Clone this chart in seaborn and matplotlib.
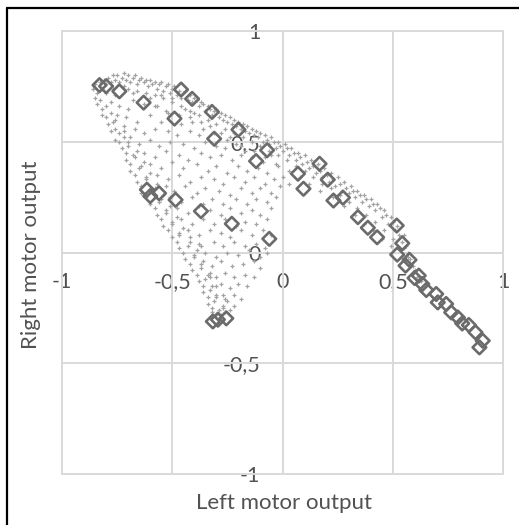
import matplotlib
matplotlib.use("Agg")
import matplotlib.pyplot as plt
from matplotlib.lines import Line2D
from matplotlib.ticker import FixedLocator, FuncFormatter
import pandas as pd
import seaborn as sns

# ---------------------------------------------------------------------------
# Data
# ---------------------------------------------------------------------------
tick_values = [-1, -0.5, 0, 0.5, 1]
x_title = "Left motor output"
y_title = "Right motor output"

# Evaluated controller outputs (large hollow diamonds)
diamond_left = [-0.83, -0.80, -0.74, -0.63, -0.46, -0.41, -0.32, -0.49, -0.31, -0.20,
                -0.07, -0.12, 0.07, 0.095, -0.615, -0.60, -0.56, -0.485, -0.37, -0.23,
                -0.06, -0.316, -0.293, -0.255, 0.168, 0.205, 0.231, 0.274, 0.342, 0.387,
                0.429, 0.518, 0.543, 0.520, 0.576, 0.558, 0.618, 0.599, 0.634, 0.652,
                0.697, 0.704, 0.742, 0.765, 0.795, 0.815, 0.845, 0.875, 0.908, 0.893]
diamond_right = [0.756, 0.751, 0.728, 0.677, 0.736, 0.694, 0.635, 0.605, 0.514, 0.555,
                 0.462, 0.413, 0.356, 0.288, 0.284, 0.255, 0.268, 0.238, 0.187, 0.130,
                 0.062, -0.311, -0.303, -0.297, 0.401, 0.329, 0.235, 0.248, 0.160, 0.112,
                 0.069, 0.122, 0.042, -0.009, -0.033, -0.059, -0.104, -0.115, -0.142, -0.169,
                 -0.187, -0.225, -0.232, -0.270, -0.293, -0.320, -0.327, -0.360, -0.398, -0.428]

# Sampled outputs (small grey dots), grouped by part of the cloud
upper_edge = [(-0.86, 0.74), (-0.85, 0.76), (-0.84, 0.72), (-0.83, 0.77), (-0.82, 0.74), (-0.81, 0.78),
              (-0.80, 0.76), (-0.80, 0.72), (-0.79, 0.79), (-0.78, 0.77), (-0.77, 0.80), (-0.77, 0.74),
              (-0.76, 0.78), (-0.75, 0.80), (-0.74, 0.77), (-0.73, 0.79), (-0.72, 0.81), (-0.72, 0.75),
              (-0.71, 0.78), (-0.70, 0.80), (-0.69, 0.77), (-0.68, 0.79), (-0.67, 0.80), (-0.66, 0.76),
              (-0.65, 0.78), (-0.64, 0.79), (-0.63, 0.77), (-0.62, 0.78), (-0.61, 0.75), (-0.60, 0.78),
              (-0.59, 0.76), (-0.58, 0.77), (-0.57, 0.74), (-0.56, 0.76), (-0.55, 0.77), (-0.54, 0.73),
              (-0.53, 0.75), (-0.52, 0.76), (-0.51, 0.72), (-0.50, 0.74), (-0.49, 0.75), (-0.48, 0.71),
              (-0.47, 0.73), (-0.46, 0.70), (-0.45, 0.72), (-0.44, 0.73), (-0.43, 0.69), (-0.42, 0.71),
              (-0.41, 0.68), (-0.40, 0.70), (-0.39, 0.69), (-0.38, 0.66), (-0.37, 0.68), (-0.36, 0.67),
              (-0.35, 0.64), (-0.34, 0.66), (-0.33, 0.65), (-0.32, 0.62), (-0.31, 0.64), (-0.30, 0.65),
              (-0.29, 0.61), (-0.28, 0.63), (-0.27, 0.60), (-0.26, 0.62), (-0.25, 0.59), (-0.24, 0.61),
              (-0.23, 0.58), (-0.22, 0.60), (-0.21, 0.57), (-0.20, 0.59), (-0.19, 0.56), (-0.18, 0.58),
              (-0.17, 0.55), (-0.16, 0.57), (-0.15, 0.54), (-0.14, 0.56), (-0.13, 0.53), (-0.12, 0.55),
              (-0.11, 0.52), (-0.10, 0.54), (-0.09, 0.50), (-0.08, 0.53), (-0.07, 0.51), (-0.06, 0.49),
              (-0.05, 0.52), (-0.04, 0.50), (-0.03, 0.47), (-0.02, 0.50), (-0.01, 0.48), (0.00, 0.46),
              (0.01, 0.49), (0.02, 0.47), (0.03, 0.44), (0.04, 0.47), (0.05, 0.45), (0.06, 0.42),
              (0.07, 0.45), (0.08, 0.43), (0.09, 0.40), (0.10, 0.44), (0.11, 0.41), (0.12, 0.38),
              (0.13, 0.42), (0.14, 0.39), (0.15, 0.36), (0.16, 0.40), (0.17, 0.37), (0.18, 0.34),
              (0.19, 0.38), (0.20, 0.35), (0.21, 0.32), (0.22, 0.36), (0.23, 0.33), (0.24, 0.30),
              (0.25, 0.34), (0.26, 0.31), (0.27, 0.28), (0.28, 0.32), (0.29, 0.29), (0.30, 0.27),
              (0.31, 0.30), (0.32, 0.28), (0.33, 0.25), (0.34, 0.28), (0.35, 0.26), (0.36, 0.23),
              (0.37, 0.26), (0.38, 0.24), (0.39, 0.21), (0.40, 0.24), (0.41, 0.22), (0.42, 0.19),
              (0.43, 0.22), (0.44, 0.20), (0.45, 0.16), (0.46, 0.19), (0.47, 0.17), (0.48, 0.13),
              (0.49, 0.16), (0.50, 0.14), (0.51, 0.10), (0.52, 0.12), (0.53, 0.08), (0.54, 0.05),
              (0.55, 0.08), (0.56, 0.03), (0.57, 0.00), (0.58, -0.03), (0.59, -0.06)]

band_inner = [(-0.70, 0.74), (-0.66, 0.73), (-0.62, 0.72), (-0.58, 0.71), (-0.54, 0.70), (-0.50, 0.68),
              (-0.46, 0.66), (-0.42, 0.64), (-0.38, 0.62), (-0.34, 0.60), (-0.30, 0.58), (-0.26, 0.56),
              (-0.22, 0.54), (-0.18, 0.52), (-0.14, 0.50), (-0.10, 0.48), (-0.06, 0.46), (-0.02, 0.44),
              (0.02, 0.42), (0.06, 0.39), (0.10, 0.37), (0.14, 0.34), (0.18, 0.31), (0.22, 0.29),
              (0.26, 0.26), (0.30, 0.23), (0.34, 0.20), (0.38, 0.17), (0.42, 0.14), (0.46, 0.10),
              (0.50, 0.06), (0.53, 0.02), (-0.68, 0.69), (-0.63, 0.67), (-0.57, 0.66), (-0.52, 0.63),
              (-0.47, 0.62), (-0.41, 0.59), (-0.36, 0.56), (-0.31, 0.54), (-0.25, 0.51), (-0.19, 0.48),
              (-0.13, 0.46), (-0.08, 0.43), (-0.03, 0.40), (0.03, 0.37), (0.08, 0.34), (0.12, 0.31),
              (0.17, 0.28), (0.23, 0.25), (0.28, 0.21), (0.33, 0.17), (0.37, 0.13), (0.41, 0.10),
              (0.45, 0.06), (0.49, 0.03), (0.55, 0.02), (0.57, -0.02), (0.58, -0.05), (0.60, -0.08),
              (0.61, -0.11), (0.63, -0.13), (0.56, -0.04), (0.59, -0.09)]

left_edge = [(-0.85, 0.70), (-0.83, 0.69), (-0.84, 0.67), (-0.82, 0.65), (-0.80, 0.66), (-0.82, 0.62),
             (-0.80, 0.61), (-0.78, 0.63), (-0.79, 0.58), (-0.77, 0.59), (-0.78, 0.55), (-0.76, 0.56),
             (-0.74, 0.54), (-0.76, 0.51), (-0.74, 0.50), (-0.72, 0.52), (-0.73, 0.47), (-0.71, 0.45),
             (-0.70, 0.48), (-0.71, 0.42), (-0.69, 0.40), (-0.67, 0.43), (-0.69, 0.37), (-0.67, 0.35),
             (-0.65, 0.38), (-0.66, 0.32), (-0.64, 0.30), (-0.62, 0.33), (-0.64, 0.27), (-0.62, 0.25),
             (-0.60, 0.28), (-0.60, 0.22), (-0.58, 0.20), (-0.56, 0.23), (-0.57, 0.17), (-0.55, 0.15),
             (-0.53, 0.18), (-0.54, 0.12), (-0.52, 0.10), (-0.50, 0.13), (-0.50, 0.07), (-0.48, 0.05),
             (-0.47, 0.08), (-0.47, 0.02), (-0.45, 0.00), (-0.43, 0.03), (-0.44, -0.03), (-0.42, -0.05),
             (-0.40, -0.02), (-0.41, -0.08), (-0.39, -0.10), (-0.37, -0.07), (-0.38, -0.13), (-0.36, -0.15),
             (-0.35, -0.12), (-0.36, -0.18), (-0.34, -0.20), (-0.33, -0.17), (-0.34, -0.23), (-0.32, -0.25),
             (-0.31, -0.22), (-0.32, -0.27), (-0.30, -0.28), (-0.29, -0.26), (-0.28, -0.28), (-0.27, -0.24),
             (-0.29, -0.30), (-0.26, -0.27), (-0.25, -0.22), (-0.30, -0.19), (-0.33, -0.09), (-0.38, 0.04),
             (-0.78, 0.68), (-0.75, 0.62), (-0.72, 0.57), (-0.69, 0.52), (-0.66, 0.46), (-0.63, 0.41),
             (-0.60, 0.36), (-0.57, 0.31), (-0.54, 0.26), (-0.51, 0.21), (-0.48, 0.16), (-0.45, 0.11),
             (-0.42, 0.07), (-0.39, 0.01), (-0.36, -0.04), (-0.33, -0.11), (-0.30, -0.15), (-0.27, -0.19)]

interior = [(-0.76, 0.71), (-0.68, 0.72), (-0.60, 0.70), (-0.55, 0.71), (-0.50, 0.70),
            (-0.74, 0.66), (-0.70, 0.65), (-0.58, 0.66), (-0.53, 0.64), (-0.44, 0.65), (-0.40, 0.63),
            (-0.76, 0.60), (-0.71, 0.61), (-0.66, 0.59), (-0.60, 0.62), (-0.55, 0.59), (-0.46, 0.58),
            (-0.42, 0.61), (-0.37, 0.59), (-0.33, 0.57),
            (-0.72, 0.55), (-0.67, 0.56), (-0.63, 0.54), (-0.58, 0.56), (-0.52, 0.55), (-0.48, 0.53),
            (-0.42, 0.55), (-0.38, 0.53), (-0.28, 0.54), (-0.24, 0.52),
            (-0.70, 0.50), (-0.65, 0.49), (-0.60, 0.51), (-0.56, 0.48), (-0.51, 0.50), (-0.45, 0.49),
            (-0.40, 0.47), (-0.35, 0.50), (-0.30, 0.48), (-0.26, 0.47), (-0.21, 0.49), (-0.17, 0.46),
            (-0.68, 0.44), (-0.63, 0.45), (-0.58, 0.43), (-0.53, 0.46), (-0.47, 0.44), (-0.43, 0.42),
            (-0.37, 0.45), (-0.33, 0.43), (-0.28, 0.44), (-0.23, 0.42), (-0.19, 0.44), (-0.14, 0.43),
            (-0.09, 0.41), (-0.05, 0.44),
            (-0.64, 0.39), (-0.60, 0.40), (-0.55, 0.38), (-0.50, 0.41), (-0.45, 0.38), (-0.39, 0.40),
            (-0.34, 0.37), (-0.30, 0.39), (-0.25, 0.36), (-0.20, 0.39), (-0.16, 0.37), (-0.11, 0.38),
            (-0.07, 0.36), (-0.02, 0.39),
            (-0.62, 0.34), (-0.57, 0.35), (-0.52, 0.33), (-0.47, 0.35), (-0.42, 0.32), (-0.37, 0.34),
            (-0.31, 0.33), (-0.27, 0.31), (-0.22, 0.34), (-0.17, 0.32), (-0.13, 0.34), (-0.08, 0.31),
            (-0.04, 0.33), (0.00, 0.34),
            (-0.58, 0.29), (-0.53, 0.30), (-0.49, 0.28), (-0.44, 0.30), (-0.39, 0.27), (-0.35, 0.29),
            (-0.29, 0.28), (-0.24, 0.26), (-0.19, 0.29), (-0.14, 0.27), (-0.10, 0.29), (-0.05, 0.27),
            (-0.01, 0.30), (0.03, 0.31),
            (-0.55, 0.24), (-0.51, 0.25), (-0.46, 0.23), (-0.41, 0.25), (-0.36, 0.22), (-0.32, 0.24),
            (-0.27, 0.22), (-0.21, 0.24), (-0.16, 0.22), (-0.12, 0.24), (-0.07, 0.23), (-0.03, 0.25),
            (-0.53, 0.19), (-0.48, 0.20), (-0.43, 0.18), (-0.38, 0.21), (-0.33, 0.19), (-0.28, 0.17),
            (-0.24, 0.20), (-0.19, 0.18), (-0.14, 0.19), (-0.10, 0.17), (-0.05, 0.20),
            (-0.50, 0.14), (-0.46, 0.15), (-0.41, 0.13), (-0.36, 0.15), (-0.31, 0.13), (-0.26, 0.15),
            (-0.21, 0.12), (-0.17, 0.14), (-0.12, 0.13), (-0.07, 0.15),
            (-0.47, 0.09), (-0.43, 0.10), (-0.38, 0.08), (-0.33, 0.10), (-0.28, 0.09), (-0.24, 0.07),
            (-0.19, 0.10), (-0.14, 0.08), (-0.09, 0.10), (-0.05, 0.08),
            (-0.42, 0.05), (-0.37, 0.03), (-0.31, 0.05), (-0.27, 0.03), (-0.22, 0.05), (-0.17, 0.03),
            (-0.12, 0.04), (-0.08, 0.02),
            (-0.40, -0.01), (-0.35, 0.00), (-0.30, -0.02), (-0.25, 0.00), (-0.20, -0.01), (-0.15, 0.01),
            (-0.10, -0.02), (-0.07, 0.00),
            (-0.37, -0.05), (-0.32, -0.06), (-0.28, -0.04), (-0.23, -0.06), (-0.18, -0.05), (-0.13, -0.04),
            (-0.10, -0.07),
            (-0.34, -0.10), (-0.30, -0.11), (-0.26, -0.09), (-0.22, -0.11), (-0.17, -0.10), (-0.13, -0.11),
            (-0.32, -0.15), (-0.28, -0.14), (-0.24, -0.16), (-0.20, -0.14), (-0.16, -0.15),
            (-0.30, -0.20), (-0.26, -0.21), (-0.22, -0.19), (-0.19, -0.21),
            (-0.27, -0.25), (-0.24, -0.26), (-0.22, -0.24)]

# ---------------------------------------------------------------------------
# Frames for seaborn
# ---------------------------------------------------------------------------
cloud = pd.DataFrame(upper_edge + band_inner + left_edge + interior, columns=["left", "right"])
diamonds = pd.DataFrame({"left": diamond_left, "right": diamond_right})

# ---------------------------------------------------------------------------
# Figure
# ---------------------------------------------------------------------------
sns.set_style("white")
plt.rcParams["font.family"] = ["Lato", "DejaVu Sans"]

text_grey = "#525252"
grid_grey = "#d9d9d9"

fig = plt.figure(figsize=(5.19, 5.25), dpi=100)
ax = fig.add_axes([0.1195, 0.097, 0.8497, 0.8438])

sns.scatterplot(data=cloud, x="left", y="right", ax=ax, marker="+", s=8,
                color="#a3a3a3", linewidth=0.9, zorder=3, legend=False)
sns.scatterplot(data=diamonds, x="left", y="right", ax=ax, marker="D", s=48,
                facecolor="none", edgecolor="#6b6b6b", linewidth=1.9, zorder=4, legend=False)

ax.set_xlim(tick_values[0], tick_values[-1])
ax.set_ylim(tick_values[0], tick_values[-1])

# Gridlines (outer ones drawn unclipped so they are full width)
for v in tick_values:
    ax.axvline(v, color=grid_grey, lw=1.4, zorder=1, clip_on=False)
    ax.axhline(v, color=grid_grey, lw=1.4, zorder=1, clip_on=False)

# Axes cross at the origin
for side in ["top", "right"]:
    ax.spines[side].set_visible(False)
ax.spines["left"].set_position(("data", 0))
ax.spines["bottom"].set_position(("data", 0))
for side in ["left", "bottom"]:
    ax.spines[side].set_color(grid_grey)
    ax.spines[side].set_linewidth(1.4)
    ax.spines[side].set_zorder(1)

comma_fmt = FuncFormatter(lambda v, pos: f"{v:g}".replace(".", ","))
ax.xaxis.set_major_locator(FixedLocator(tick_values))
ax.yaxis.set_major_locator(FixedLocator(tick_values))
ax.xaxis.set_major_formatter(comma_fmt)
ax.yaxis.set_major_formatter(comma_fmt)
ax.tick_params(axis="x", length=0, pad=14, labelsize=15.5, labelcolor=text_grey)
ax.tick_params(axis="y", length=0, pad=16, labelsize=15.5, labelcolor=text_grey)
ax.set_xlabel("")
ax.set_ylabel("")

fig.text(284.5 / 519, 1 - 503 / 525, x_title, ha="center", va="center",
         fontsize=16, color=text_grey)
fig.text(31 / 519, 1 - 255 / 525, y_title, ha="center", va="center",
         rotation=90, fontsize=16, color=text_grey)

# Outer chart border
fig.add_artist(Line2D([6.5 / 519, 6.5 / 519], [0, 1 - 7.5 / 525],
                      transform=fig.transFigure, color="black", lw=1.6))
fig.add_artist(Line2D([6.5 / 519, 1], [1 - 7.5 / 525, 1 - 7.5 / 525],
                      transform=fig.transFigure, color="black", lw=1.6))

fig.savefig("out.png", dpi=100, facecolor="white")
